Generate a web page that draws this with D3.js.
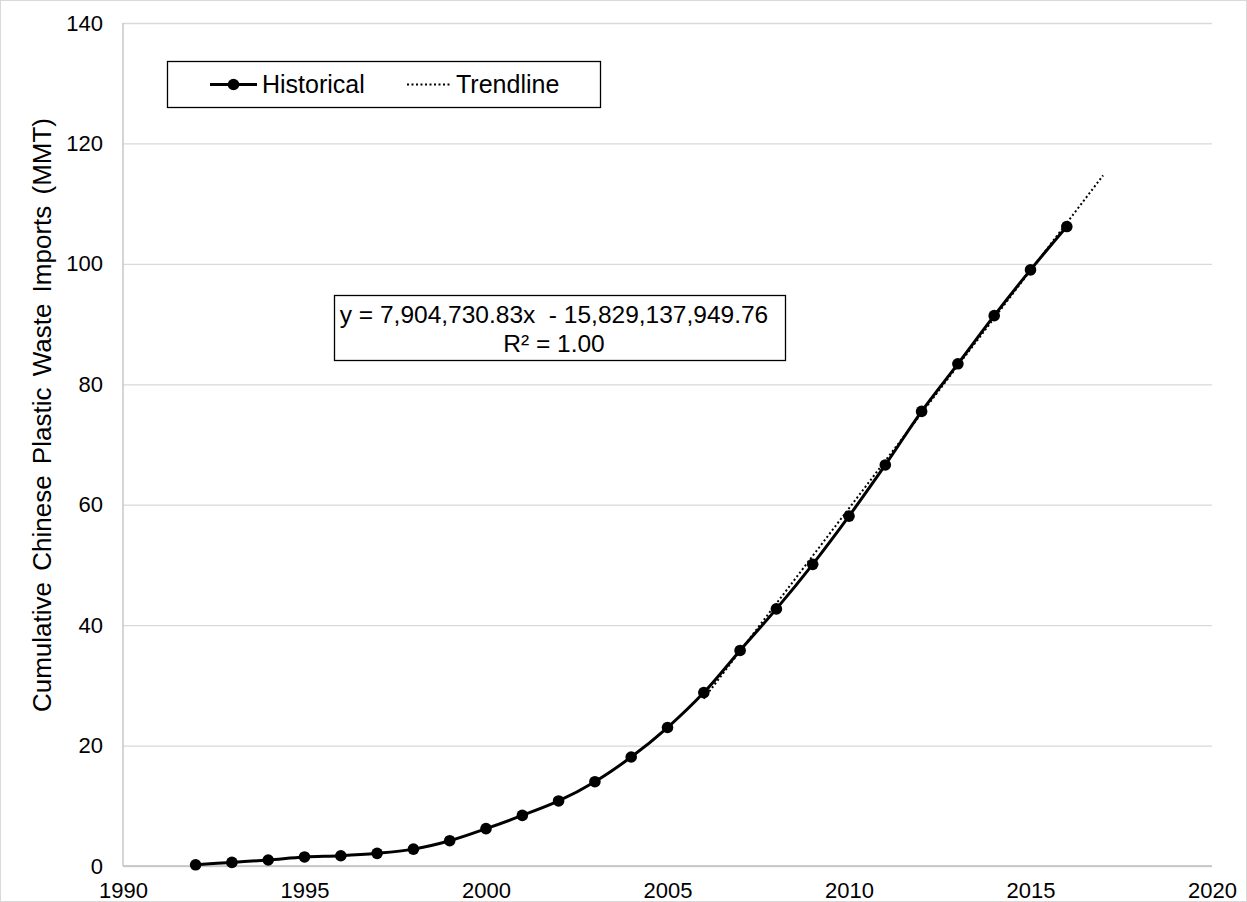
<!DOCTYPE html>
<html>
<head>
<meta charset="utf-8">
<script src="https://cdn.jsdelivr.net/npm/d3@7"></script>
<style>
  body { margin: 0; background: #fff; }
  svg { display: block; font-family: Arial, "Liberation Sans", sans-serif; }
  .grid line { stroke: #d9d9d9; stroke-width: 1.3; }
  .grid .domain { display: none; }
  .axis text { fill: #000; font-size: 22px; }
</style>
</head>
<body>
<div class="container"></div>
<script>
// data (million metric tonnes, cumulative)
const years = [1992, 1993, 1994, 1995, 1996, 1997, 1998, 1999, 2000, 2001, 2002, 2003,
               2004, 2005, 2006, 2007, 2008, 2009, 2010, 2011, 2012, 2013, 2014, 2015, 2016];
const historical = [0.2, 0.6, 1.0, 1.5, 1.7, 2.1, 2.8, 4.2, 6.2, 8.4, 10.8, 14.0,
                    18.1, 23.0, 28.8, 35.8, 42.7, 50.1, 58.1, 66.6, 75.5, 83.4, 91.4, 99.0, 106.2];

// linear trendline endpoints (2006 to 2017)
const trendYears = [2006, 2017];
const trendValues = [27.8, 114.7];

const xTicks = [1990, 1995, 2000, 2005, 2010, 2015, 2020];
const yTicks = [0, 20, 40, 60, 80, 100, 120, 140];
const equationLines = ["y = 7,904,730.83x  - 15,829,137,949.76", "R² = 1.00"];
const yTitle = "Cumulative Chinese Plastic Waste Imports (MMT)";

const width = 1247, height = 902;
const margin = {top: 23, right: 35, bottom: 36, left: 123};
const plotWidth = width - margin.left - margin.right;
const plotHeight = height - margin.top - margin.bottom;

const svg = d3.select(".container")
              .append("svg")
              .attr("width", width)
              .attr("height", height);

// chart border
svg.append("rect")
   .attr("x", 0.5).attr("y", 0.5)
   .attr("width", width - 1).attr("height", height - 1)
   .attr("fill", "#fff")
   .attr("stroke", "#d9d9d9");

const plot = svg.append("g")
                .attr("transform", `translate(${margin.left},${margin.top})`);

const x = d3.scaleLinear().domain([1990, 2020]).range([0, plotWidth]);
const y = d3.scaleLinear().domain([0, 140]).range([plotHeight, 0]);

plot.append("g")
    .attr("class", "grid")
    .call(d3.axisLeft(y).tickValues(yTicks).tickSize(-plotWidth).tickFormat(""));

// left and bottom axis lines
plot.append("line")
    .attr("x1", 0).attr("x2", 0)
    .attr("y1", 0).attr("y2", plotHeight)
    .attr("stroke", "#bfbfbf").attr("stroke-width", 1.3);
plot.append("line")
    .attr("x1", 0).attr("x2", plotWidth)
    .attr("y1", plotHeight).attr("y2", plotHeight)
    .attr("stroke", "#bfbfbf").attr("stroke-width", 1.3);

const yAxis = plot.append("g")
                  .attr("class", "axis")
                  .call(d3.axisLeft(y).tickValues(yTicks).tickSize(0).tickPadding(20));
yAxis.select(".domain").remove();

const xAxis = plot.append("g")
                  .attr("class", "axis")
                  .attr("transform", `translate(0,${plotHeight})`)
                  .call(d3.axisBottom(x).tickValues(xTicks).tickSize(0).tickPadding(16)
                                        .tickFormat(d3.format("d")));
xAxis.select(".domain").remove();

// y axis title
svg.append("text")
   .attr("transform", "translate(51,415) rotate(-90)")
   .attr("text-anchor", "middle")
   .attr("font-size", 26)
   .attr("word-spacing", 4)
   .text(yTitle);

// trendline
plot.append("path")
    .datum(d3.zip(trendYears, trendValues))
    .attr("fill", "none")
    .attr("stroke", "#000")
    .attr("stroke-width", 2)
    .attr("stroke-dasharray", "2 2.5")
    .attr("d", d3.line().x(d => x(d[0])).y(d => y(d[1])));

// historical line, smoothed
const hist = d3.zip(years, historical);
plot.append("path")
    .datum(hist)
    .attr("fill", "none")
    .attr("stroke", "#000")
    .attr("stroke-width", 3)
    .attr("d", d3.line().curve(d3.curveCatmullRom.alpha(0.5))
                        .x(d => x(d[0])).y(d => y(d[1])));

plot.selectAll("circle.pt")
    .data(hist)
    .enter()
    .append("circle")
    .attr("class", "pt")
    .attr("r", 5.8)
    .attr("cx", d => x(d[0]))
    .attr("cy", d => y(d[1]))
    .attr("fill", "#000");

// legend
const legend = svg.append("g");
legend.append("rect")
      .attr("x", 167.5).attr("y", 61.5)
      .attr("width", 433).attr("height", 46)
      .attr("fill", "#fff").attr("stroke", "#000").attr("stroke-width", 1.3);
legend.append("line")
      .attr("x1", 210).attr("x2", 257).attr("y1", 84.5).attr("y2", 84.5)
      .attr("stroke", "#000").attr("stroke-width", 3);
legend.append("circle")
      .attr("cx", 233.5).attr("cy", 84.5).attr("r", 5.8).attr("fill", "#000");
legend.append("text")
      .attr("x", 262).attr("y", 84.5).attr("dy", "0.35em")
      .attr("font-size", 25).text("Historical");
legend.append("line")
      .attr("x1", 407).attr("x2", 452).attr("y1", 84.5).attr("y2", 84.5)
      .attr("stroke", "#000").attr("stroke-width", 2).attr("stroke-dasharray", "2 2.5");
legend.append("text")
      .attr("x", 456).attr("y", 84.5).attr("dy", "0.35em")
      .attr("font-size", 25).text("Trendline");

// trendline equation label
const eq = svg.append("g");
eq.append("rect")
  .attr("x", 334.5).attr("y", 295.5)
  .attr("width", 451).attr("height", 65)
  .attr("fill", "#fff").attr("stroke", "#000").attr("stroke-width", 1.3);
eq.selectAll("text")
  .data(equationLines)
  .enter()
  .append("text")
  .attr("x", 554)
  .attr("y", (d, i) => 314 + i * 29)
  .attr("dy", "0.35em")
  .attr("text-anchor", "middle")
  .attr("font-size", 24.5)
  .style("white-space", "pre")
  .text(d => d);
</script>
</body>
</html>
